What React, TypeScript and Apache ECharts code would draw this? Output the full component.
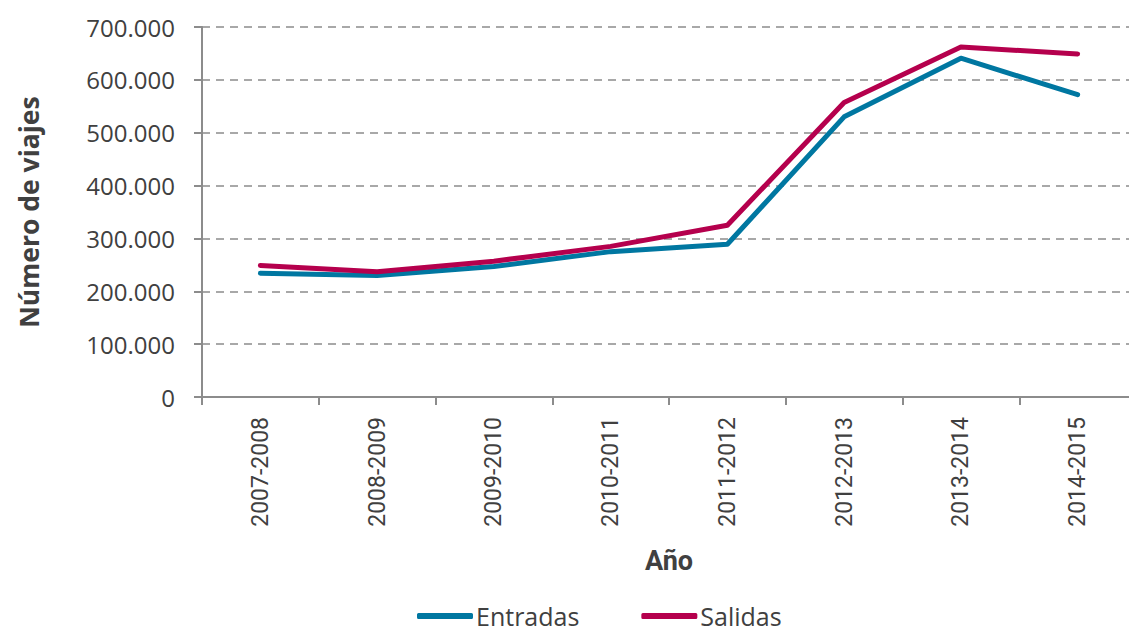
import React, { useEffect, useRef } from "react";
import * as echarts from "echarts";

const categories = ["2007-2008", "2008-2009", "2009-2010", "2010-2011", "2011-2012", "2012-2013", "2013-2014", "2014-2015"];
const entradas = [234000, 230000, 247000, 275000, 289000, 530000, 641000, 572000];
const salidas = [249000, 237000, 257000, 285000, 325000, 557000, 662000, 649000];
const yTicks = { min: 0, max: 700000, interval: 100000 };

const fmt = (v: number) => String(v).replace(/\B(?=(\d{3})+(?!\d))/g, ".");

export default function App() {
  const ref = useRef<HTMLDivElement>(null);
  useEffect(() => {
    const chart = echarts.init(ref.current!, undefined, { renderer: "svg" });
    chart.setOption({
      animation: false,
      backgroundColor: "#ffffff",
      grid: { left: 202, right: 9, top: 27, bottom: 237 },
      legend: {
        top: 603,
        left: 417,
        padding: 0,
        itemWidth: 56,
        itemHeight: 6,
        itemGap: 62,
        icon: "roundRect",
        textStyle: { fontFamily: "Open Sans", fontSize: 25, lineHeight: 26, color: "#404040", padding: [0, 0, 0, -2] },
        data: ["Entradas", "Salidas"],
      },
      xAxis: {
        type: "category",
        data: categories,
        boundaryGap: true,
        name: "Año",
        nameLocation: "middle",
        nameGap: 150,
        nameTextStyle: { fontFamily: "Roboto", fontWeight: "bold", fontSize: 27, color: "#404040" },
        axisLine: { lineStyle: { color: "#8c8c8c", width: 2 } },
        axisTick: { show: true, length: 8, lineStyle: { color: "#8c8c8c", width: 2 } },
        axisLabel: { rotate: 90, fontFamily: "Roboto", fontSize: 23, color: "#404040", margin: 20 },
        splitLine: { show: false },
      },
      yAxis: {
        type: "value",
        min: yTicks.min,
        max: yTicks.max,
        interval: yTicks.interval,
        name: "Número de viajes",
        nameLocation: "middle",
        nameGap: 160,
        nameTextStyle: { fontFamily: "Open Sans", fontWeight: "bold", fontSize: 26.5, color: "#404040" },
        axisLine: { show: true, lineStyle: { color: "#8c8c8c", width: 2 } },
        axisTick: { show: true, length: 8, lineStyle: { color: "#8c8c8c", width: 2 } },
        axisLabel: { fontFamily: "Open Sans", fontSize: 24, color: "#404040", margin: 27, formatter: (v: number) => fmt(v) },
        splitLine: { lineStyle: { color: "#8c8c8c", width: 1.5, type: [8, 6] } },
      },
      series: [
        {
          name: "Entradas",
          type: "line",
          data: entradas,
          symbol: "none",
          lineStyle: { color: "#0077a1", width: 5, cap: "round", join: "round" },
          itemStyle: { color: "#0077a1" },
        },
        {
          name: "Salidas",
          type: "line",
          data: salidas,
          symbol: "none",
          lineStyle: { color: "#b5004d", width: 5, cap: "round", join: "round" },
          itemStyle: { color: "#b5004d" },
        },
      ],
    });
    return () => chart.dispose();
  }, []);
  return <div ref={ref} style={{ position: "fixed", left: 0, top: 0, width: 1145, height: 634 }} />;
}
